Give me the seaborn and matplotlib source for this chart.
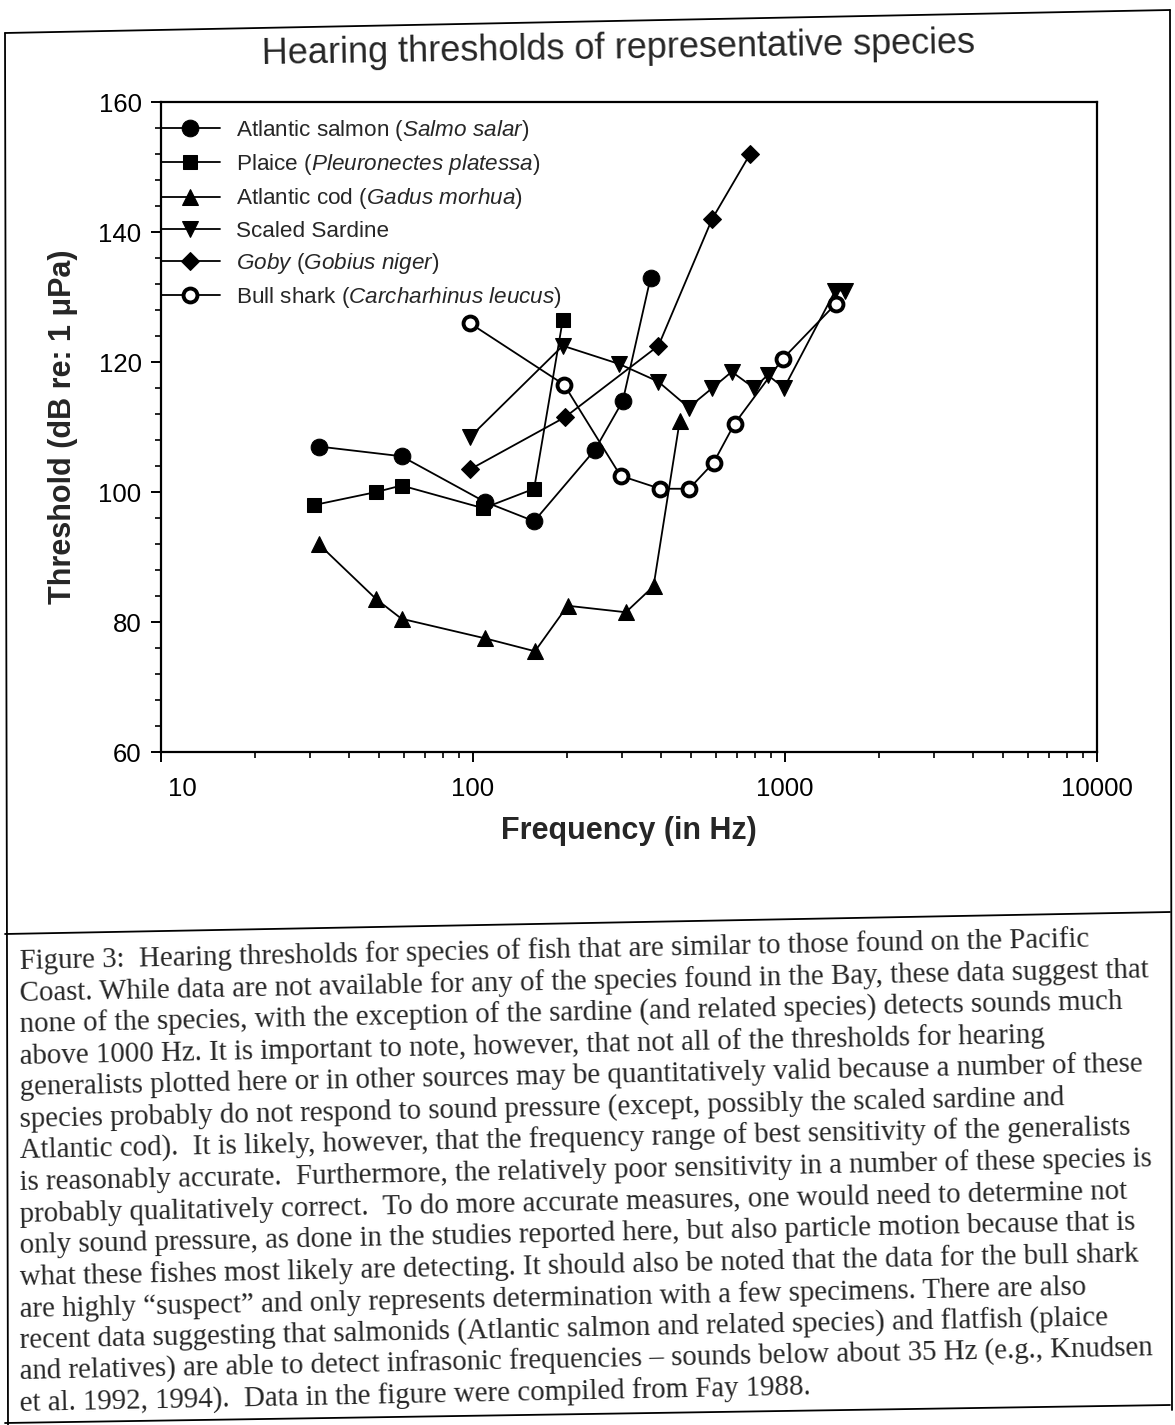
import matplotlib
matplotlib.use("Agg")
import matplotlib.pyplot as plt
import matplotlib.transforms as mtransforms
from matplotlib.lines import Line2D
from matplotlib.ticker import MultipleLocator, LogLocator, NullFormatter
import numpy as np
import pandas as pd
import seaborn as sns

# ── Data (Fay 1988) ───────────────────────────────────────────────────────────
salmon_hz = [32, 59, 109, 157, 246, 302, 371]
salmon_db = [107, 105.5, 98.5, 95.5, 106.5, 114, 133]

plaice_hz = [31, 49, 59, 108, 157, 194]
plaice_db = [98, 100, 101, 97.5, 100.5, 126.5]

cod_hz = [32, 49, 59, 109, 158, 201, 309, 379, 460]
cod_db = [92, 83.5, 80.5, 77.5, 75.5, 82.5, 81.5, 85.5, 111]

sardine_hz = [98, 194, 294, 392, 491, 585, 675, 796, 880, 993, 1450, 1560]
sardine_db = [108.5, 122.5, 119.7, 117, 113, 116, 118.5, 116, 118, 116, 131, 131]

goby_hz = [98, 197, 393, 584, 773]
goby_db = [103.5, 111.5, 122.5, 142, 152]

shark_hz = [97.5, 196, 297, 398, 493, 590, 689, 984, 1459]
shark_db = [126, 116.5, 102.5, 100.5, 100.5, 104.5, 110.5, 120.5, 129]

legend_labels = [
    r"Atlantic salmon ($\mathit{Salmo\ salar}$)",
    r"Plaice ($\mathit{Pleuronectes\ platessa}$)",
    r"Atlantic cod ($\mathit{Gadus\ morhua}$)",
    "Scaled Sardine",
    r"$\mathit{Goby\ (Gobius\ niger)}$",
    r"Bull shark ($\mathit{Carcharhinus\ leucus}$)",
]

x_ticks = [10, 100, 1000, 10000]
y_ticks = [60, 80, 100, 120, 140, 160]

caption_lines = [
    "Figure 3:  Hearing thresholds for species of fish that are similar to those found on the Pacific",
    "Coast. While data are not available for any of the species found in the Bay, these data suggest that",
    "none of the species, with the exception of the sardine (and related species) detects sounds much",
    "above 1000 Hz. It is important to note, however, that not all of the thresholds for hearing",
    "generalists plotted here or in other sources may be quantitatively valid because a number of these",
    "species probably do not respond to sound pressure (except, possibly the scaled sardine and",
    "Atlantic cod).  It is likely, however, that the frequency range of best sensitivity of the generalists",
    "is reasonably accurate.  Furthermore, the relatively poor sensitivity in a number of these species is",
    "probably qualitatively correct.  To do more accurate measures, one would need to determine not",
    "only sound pressure, as done in the studies reported here, but also particle motion because that is",
    "what these fishes most likely are detecting. It should also be noted that the data for the bull shark",
    "are highly \u201csuspect\u201d and only represents determination with a few specimens. There are also",
    "recent data suggesting that salmonids (Atlantic salmon and related species) and flatfish (plaice",
    "and relatives) are able to detect infrasonic frequencies \u2013 sounds below about 35 Hz (e.g., Knudsen",
    "et al. 1992, 1994).  Data in the figure were compiled from Fay 1988.",
]

# ── Styling ───────────────────────────────────────────────────────────────────
sns.set_theme(style="ticks")
plt.rcParams["font.family"] = ["Liberation Sans", "DejaVu Sans"]
plt.rcParams["mathtext.fontset"] = "custom"
plt.rcParams["mathtext.rm"] = "Liberation Sans"
plt.rcParams["mathtext.it"] = "Liberation Sans:italic"

W, H = 1175, 1425
fig = plt.figure(figsize=(W / 100, H / 100), dpi=100)
fig.patch.set_facecolor("white")


def fx(x):
    return x / W


def fy(y):
    return 1 - y / H


# page frame and separator (scan is slightly tilted)
for (x0, y0), (x1, y1) in [((5, 33), (1170, 10)), ((5, 33), (8, 1425)),
                           ((1170, 10), (1172, 1410)), ((5, 1423), (1170, 1405)),
                           ((5, 934), (1170, 912))]:
    fig.add_artist(Line2D([fx(x0), fx(x1)], [fy(y0), fy(y1)], color="black", lw=1.3,
                          transform=fig.transFigure))

fig.text(fx(262), fy(64), "Hearing thresholds of representative species",
         fontsize=26, ha="left", va="baseline", rotation=0.9, rotation_mode="anchor")

ax = fig.add_axes([fx(161), fy(752), 936 / W, 650 / H])

series = [
    (salmon_hz, salmon_db, dict(marker="o", markersize=12, markerfacecolor="black")),
    (plaice_hz, plaice_db, dict(marker="s", markersize=10.5, markerfacecolor="black")),
    (cod_hz, cod_db, dict(marker="^", markersize=12, markerfacecolor="black")),
    (sardine_hz, sardine_db, dict(marker="v", markersize=12, markerfacecolor="black")),
    (goby_hz, goby_db, dict(marker="D", markersize=9.5, markerfacecolor="black")),
    (shark_hz, shark_db, dict(marker="o", markersize=10, markerfacecolor="white",
                              markeredgewidth=2.8)),
]

for (hz, db, style), label in zip(series, legend_labels):
    df = pd.DataFrame({"freq": hz, "threshold": db})
    sns.lineplot(data=df, x="freq", y="threshold", ax=ax, color="black", lw=1.3,
                 markeredgecolor="black", sort=False, estimator=None, label=label, **style)

ax.set_xscale("log")
ax.set_xlim(10, 10000)
ax.set_ylim(60, 160)
ax.set_xticks(x_ticks)
ax.set_xticklabels([str(t) for t in x_ticks])
ax.xaxis.set_minor_locator(LogLocator(base=10, subs=np.arange(2, 10)))
ax.xaxis.set_minor_formatter(NullFormatter())
ax.set_yticks(y_ticks)
ax.yaxis.set_minor_locator(MultipleLocator(4))

ax.tick_params(which="major", direction="out", length=7, width=1.4, labelsize=18.5,
               color="black", labelcolor="black")
ax.tick_params(axis="y", which="major", pad=7)
ax.tick_params(axis="x", which="major", pad=11)
ax.tick_params(which="minor", direction="out", length=4.5, width=1.2, color="black")
for side in ["left", "bottom", "top", "right"]:
    ax.spines[side].set_visible(True)
    ax.spines[side].set_color("black")
    ax.spines[side].set_linewidth(1.6)

# the "10" label sits a bit right of its tick in the original
shift = mtransforms.ScaledTranslation(21 / 100, 0, fig.dpi_scale_trans)
first = ax.get_xticklabels()[0]
first.set_transform(first.get_transform() + shift)

ax.set_xlabel("Frequency (in Hz)", fontsize=22, fontweight="bold", labelpad=11)
ax.set_ylabel("Threshold (dB re: 1 \u03bcPa)", fontsize=22, fontweight="bold", labelpad=15)

ax.legend(loc="upper left", bbox_to_anchor=(0.0, 1 - 16 / 650), borderaxespad=0,
          borderpad=0, frameon=False, fontsize=16.2, handlelength=2.6,
          handletextpad=0.75, labelspacing=0.41)

# caption, typed in Times under the chart
for i, line in enumerate(caption_lines):
    x0, y0 = 20, 969 + 31.6 * i
    fig.text(fx(x0), fy(y0), line, family=["Liberation Serif", "DejaVu Serif"],
             fontsize=20.8, ha="left", va="baseline", rotation=1.2, rotation_mode="anchor")

fig.savefig("out.png", dpi=100, facecolor="white")
